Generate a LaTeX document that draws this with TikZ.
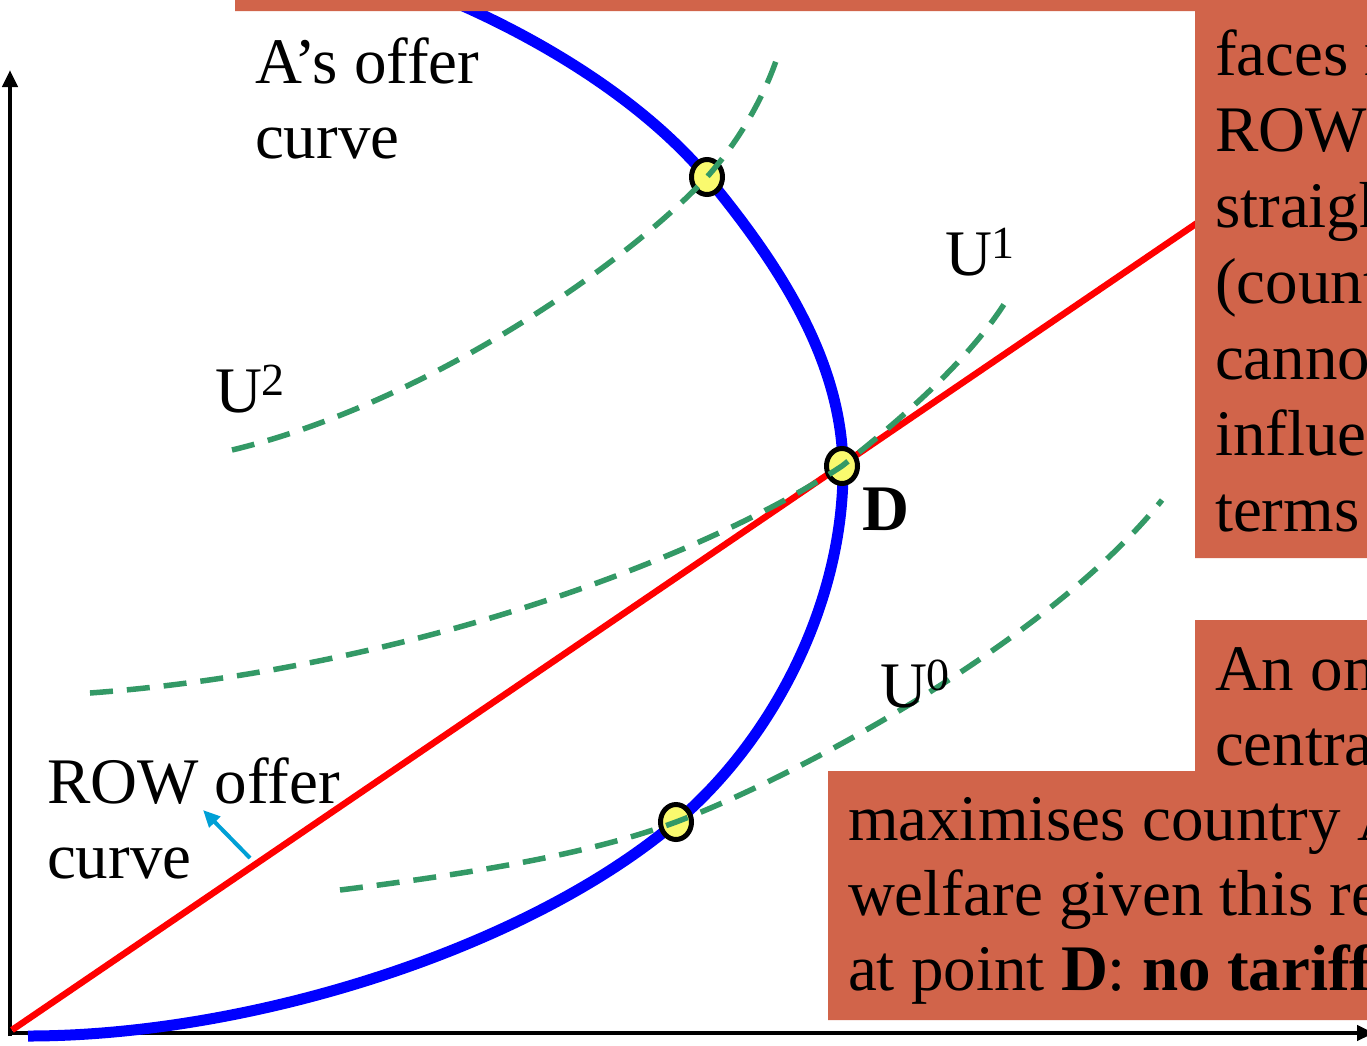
\documentclass[tikz,border=0pt]{standalone}
\usepackage{fontspec}
\setmainfont{Liberation Serif}
\usetikzlibrary{arrows.meta,shapes.geometric}
\definecolor{boxc}{RGB}{209,100,74}
\definecolor{ugreen}{RGB}{51,153,102}
\definecolor{arrc}{RGB}{0,160,214}
\definecolor{ptyellow}{RGB}{250,250,110}
\newcommand{\supnum}[1]{\raisebox{17pt}{\fontsize{46}{46}\selectfont #1}}
\tikzset{
  txt/.style={anchor=base west,inner sep=0pt,outer sep=0pt,font=\fontsize{65}{76}\selectfont},
  axisline/.style={line width=4.5pt,black,-{Triangle[length=17pt,width=15pt]}},
  offerA/.style={line width=11pt,blue},
  offerROW/.style={line width=6.5pt,red},
  indiff/.style={line width=5.5pt,ugreen,dash pattern=on 23pt off 14pt},
  eqpt/.style={ellipse,draw=black,line width=5pt,fill=ptyellow,minimum width=31pt,minimum height=35pt,inner sep=0pt},
  notebox/.style={fill=boxc,draw=none},
  pointer/.style={line width=4pt,arrc,-{Triangle[length=17pt,width=15pt]}}
}
\begin{document}
\begin{tikzpicture}[x=1pt,y=-1pt]
\useasboundingbox (0,0) rectangle (1367,1045);
\clip (0,0) rectangle (1367,1045);
\fill[white] (0,0) rectangle (1367,1045);

% key coordinates
\coordinate (O) at (10,1033);
\coordinate (Ytop) at (10,70);
\coordinate (Xend) at (1374,1033);
\coordinate (Rstart) at (12,1030);
\coordinate (Rend) at (1250,187);
\coordinate (Dp) at (842,466);
\coordinate (Pup) at (707,177);
\coordinate (Plow) at (676,822);
\coordinate (Astart) at (28,1036);
\coordinate (Aend) at (430,-8);

% axes
\draw[axisline] (10,1036) -- (Ytop);
\draw[axisline] (8,1033) -- (Xend);

% A's offer curve
\draw[offerA] (Astart) .. controls (250,1036) and (526,949) .. (Plow)
  .. controls (776,737) and (843,600) .. (843,470)
  .. controls (843,360) and (777,262) .. (Pup)
  .. controls (637,94) and (525,30) .. (Aend);

% ROW offer curve
\draw[offerROW] (Rstart) -- (Rend);

% equilibrium points
\node[eqpt] (eD) at (Dp) {};
\node[eqpt] (eUp) at (Pup) {};
\node[eqpt] (eLow) at (Plow) {};

% indifference curves
\draw[indiff] (232,450) .. controls (420,405) and (620,270) .. (Pup)
  .. controls (740,140) and (765,95) .. (778,55);
\draw[indiff] (90,693) .. controls (400,670) and (700,560) .. (Dp)
  .. controls (900,420) and (970,360) .. (1008,298);
\draw[indiff] (340,890) .. controls (500,870) and (600,850) .. (Plow)
  .. controls (800,775) and (1050,640) .. (1162,500);

% pointer arrow
\coordinate (arrS) at (250,858);
\coordinate (arrE) at (203,810);
\draw[pointer] (arrS) -- (arrE);

% labels
\node[txt] (la1) at (255,83) {A’s offer};
\node[txt] (la2) at (255,158) {curve};
\node[txt] (lr1) at (47,803) {ROW offer};
\node[txt] (lr2) at (47,878) {curve};
\node[txt] (u2) at (215,412) {U\supnum{2}};
\node[txt] (u1) at (945,275) {U\supnum{1}};
\node[txt] (u0) at (880,707) {U\supnum{0}};
\node[txt,font=\fontsize{65}{76}\selectfont\bfseries] (lD) at (862,530) {D};

% top-right note box
\path[notebox] (235,-10) -- (1380,-10) -- (1380,558) -- (1195,558) -- (1195,11) -- (235,11) -- cycle;
\node[txt] (t1) at (1215,75) {faces rest of};
\node[txt] (t2) at (1215,151) {ROW offer};
\node[txt] (t3) at (1215,227) {straight line};
\node[txt] (t4) at (1215,303) {(country A};
\node[txt] (t5) at (1215,379) {cannot};
\node[txt] (t6) at (1215,455) {influence};
\node[txt] (t7) at (1215,531) {terms of trade)};

% bottom note box
\path[notebox] (1195,620) -- (1380,620) -- (1380,1020) -- (828,1020) -- (828,771) -- (1195,771) -- cycle;
\node[txt] (b1) at (1215,690) {An omniscient};
\node[txt] (b2) at (1215,765) {central planner};
\node[txt] (b3) at (848,840) {maximises country A’s};
\node[txt] (b4) at (848,915) {welfare given this restriction};
\node[txt] (b5) at (848,990) {at point \textbf{D}: \textbf{no tariffs}};
\end{tikzpicture}
\end{document}
